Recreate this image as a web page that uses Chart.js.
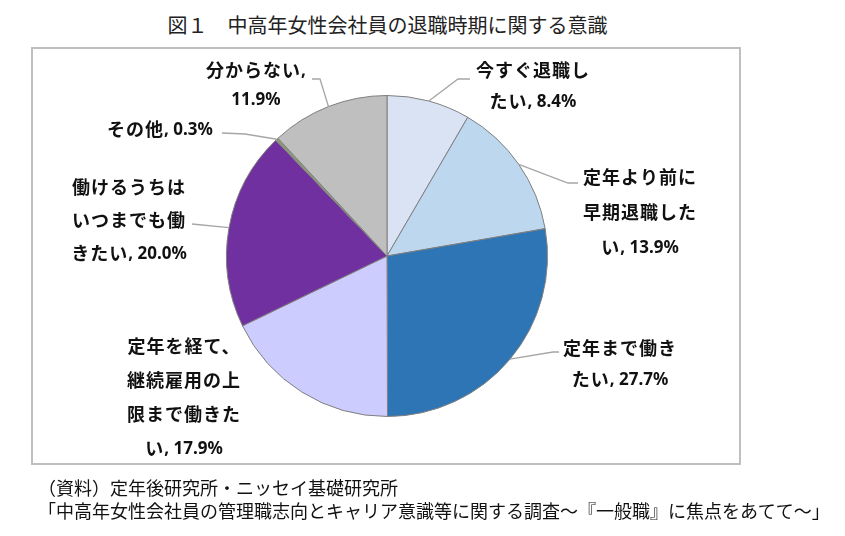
<!DOCTYPE html>
<html><head><meta charset="utf-8">
<script src="https://cdn.jsdelivr.net/npm/chart.js@4"></script>
<style>
html,body{margin:0;padding:0;background:#fff;}
#wrap{position:relative;width:845px;height:536px;overflow:hidden;font-family:"Noto Sans CJK JP","Noto Sans",sans-serif;}
#title{position:absolute;left:0;width:775px;top:11px;text-align:center;font-size:20px;color:#222;line-height:28px;}
#frame{position:absolute;left:31px;top:47px;width:706px;height:414px;border:2px solid #BFBFBF;}
#src{position:absolute;left:38px;top:476px;font-size:18px;line-height:23px;color:#111;white-space:nowrap;}
canvas{position:absolute;left:0;top:0;}
</style></head>
<body>
<div id="wrap">
<div id="title">図１　中高年女性会社員の退職時期に関する意識</div>
<div id="frame"></div>
<canvas id="c" width="845" height="536"></canvas>
<div id="src">（資料）定年後研究所・ニッセイ基礎研究所<br>「中高年女性会社員の管理職志向とキャリア意識等に関する調査～『一般職』に焦点をあてて～」</div>
</div>
<script>
const categories = ['今すぐ退職したい','定年より前に早期退職したい','定年まで働きたい','定年を経て、継続雇用の上限まで働きたい','働けるうちはいつまでも働きたい','その他','分からない'];
const values = [8.4, 13.9, 27.7, 17.9, 20.0, 0.3, 11.9];
const colors = ['#DAE3F3','#BDD7EE','#2E75B6','#CCCCFF','#7030A0','#8C9878','#BFBFBF'];

// label layout (positions only)
const labelLayout = [
  {x:533, y:70,  lh:31, br:[6], lead:[[458,79],[470,79]]},
  {x:640, y:177, lh:35, br:[6,12], lead:[[568,183],[578,183]]},
  {x:620, y:348, lh:31, br:[6], lead:[[553,352],[559,352]]},
  {x:184, y:346, lh:34, br:[6,12,18], lead:null},
  {x:129, y:187, lh:33, br:[6,12], lead:[[192,224]]},
  {x:160, y:129, lh:30, br:[], lead:[[245,134],[222,133]]},
  {x:256, y:70,  lh:29, br:[6], lead:[[320,79],[312,79]]}
];

const CJK_FONT = 'bold 18px "Noto Sans CJK JP"';
const LAT_FONT = 'bold 17px "Noto Sans"';

function runs(str){
  const out = [];
  for (const ch of str){
    const lat = ch.charCodeAt(0) < 0x2000;
    if (out.length && out[out.length-1].lat === lat) out[out.length-1].t += ch;
    else out.push({t:ch, lat});
  }
  return out;
}
function setRun(ctx, r){
  ctx.font = r.lat ? LAT_FONT : CJK_FONT;
  ctx.letterSpacing = r.lat ? '0px' : '1px';
}
function drawLine(ctx, str, cx, cy){
  const rs = runs(str);
  let w = 0;
  rs.forEach(r=>{ setRun(ctx,r); r.w = ctx.measureText(r.t).width; w += r.w; });
  let x = cx - w/2;
  rs.forEach(r=>{ setRun(ctx,r); ctx.fillText(r.t, x, cy + (r.lat?1:0)); x += r.w; });
}

const labelPlugin = {
  id:'pieLabels',
  afterDatasetsDraw(chart){
    const ctx = chart.ctx;
    const meta = chart.getDatasetMeta(0);
    ctx.save();
    meta.data.forEach((arc,i)=>{
      const L = labelLayout[i];
      const p = arc.getProps(['x','y','startAngle','endAngle','outerRadius'], true);
      const mid = (p.startAngle+p.endAngle)/2;
      if (L.lead){
        ctx.beginPath();
        ctx.strokeStyle = '#A6A6A6';
        ctx.lineWidth = 1.3;
        ctx.moveTo(p.x+Math.cos(mid)*p.outerRadius, p.y+Math.sin(mid)*p.outerRadius);
        L.lead.forEach(pt=>ctx.lineTo(pt[0],pt[1]));
        ctx.stroke();
      }
      const text = categories[i] + ', ' + values[i].toFixed(1) + '%';
      const lines = [];
      let prev = 0;
      L.br.forEach(b=>{lines.push(text.slice(prev,b).trim()); prev=b;});
      lines.push(text.slice(prev).trim());
      ctx.fillStyle = '#111';
      ctx.textAlign = 'left';
      ctx.textBaseline = 'middle';
      lines.forEach((ln,k)=>drawLine(ctx, ln, L.x, L.y + k*L.lh));
    });
    ctx.restore();
  }
};

new Chart(document.getElementById('c'), {
  type:'pie',
  data:{labels:categories, datasets:[{data:values, backgroundColor:colors, borderColor:'#7F7F7F', borderWidth:1, hoverOffset:0}]},
  options:{
    responsive:false, animation:false,
    layout:{padding:{left:226, right:297, top:95, bottom:119}},
    plugins:{legend:{display:false}, tooltip:{enabled:false}, title:{display:false}}
  },
  plugins:[labelPlugin]
});
</script>
</body></html>
